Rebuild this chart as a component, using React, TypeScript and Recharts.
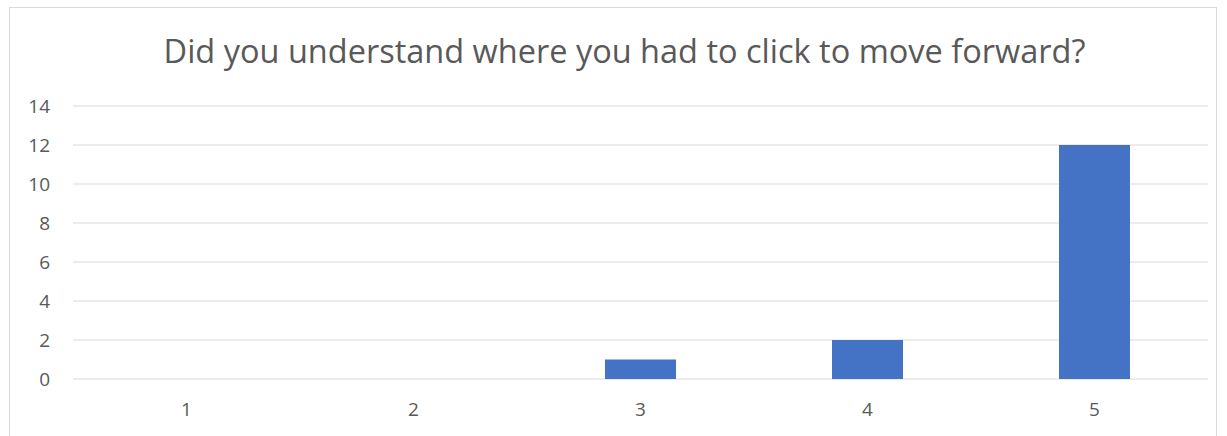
import React from "react";
import { BarChart, Bar, XAxis, YAxis, CartesianGrid } from "recharts";

const categories = ["1", "2", "3", "4", "5"];
const counts = [0, 0, 1, 2, 12];
const yTicks = [0, 2, 4, 6, 8, 10, 12, 14];

const title = "Did you understand where you had to click to move forward?";

const data = categories.map((c, i) => ({ name: c, value: counts[i] }));

const FONT = "'Open Sans', 'Noto Sans', sans-serif";
const TEXT = "#595959";

export default function App() {
  return (
    <div style={{ position: "absolute", left: 0, top: 0, width: 1227, height: 436, overflow: "hidden", background: "#fff" }}>
      {/* chart frame */}
      <div
        style={{
          position: "absolute",
          left: 9,
          top: 7,
          width: 1208,
          height: 440,
          border: "1px solid #d9d9d9",
          boxSizing: "border-box",
        }}
      />
      <div
        style={{
          position: "absolute",
          left: 0,
          top: 29,
          width: 1249,
          textAlign: "center",
          fontFamily: FONT,
          fontSize: 32.5,
          color: TEXT,
          lineHeight: "44px",
          whiteSpace: "nowrap",
        }}
      >
        {title}
      </div>
      <div style={{ position: "absolute", left: 0, top: 0 }}>
        <BarChart
          width={1227}
          height={436}
          data={data}
          margin={{ top: 106, right: 19, bottom: 27, left: 13 }}
        >
          <CartesianGrid vertical={false} stroke="#d9d9d9" strokeWidth={1} />
          <XAxis
            dataKey="name"
            axisLine={false}
            tickLine={false}
            height={30}
            tickMargin={18}
            tick={{ fill: TEXT, fontSize: 19, fontFamily: FONT }}
          />
          <YAxis
            width={60}
            domain={[0, 14]}
            ticks={yTicks}
            interval={0}
            axisLine={false}
            tickLine={false}
            tickMargin={17}
            tick={{ fill: TEXT, fontSize: 19, fontFamily: FONT }}
          />
          <Bar dataKey="value" fill="#4472C4" barSize={71} isAnimationActive={false} />
        </BarChart>
      </div>
    </div>
  );
}
